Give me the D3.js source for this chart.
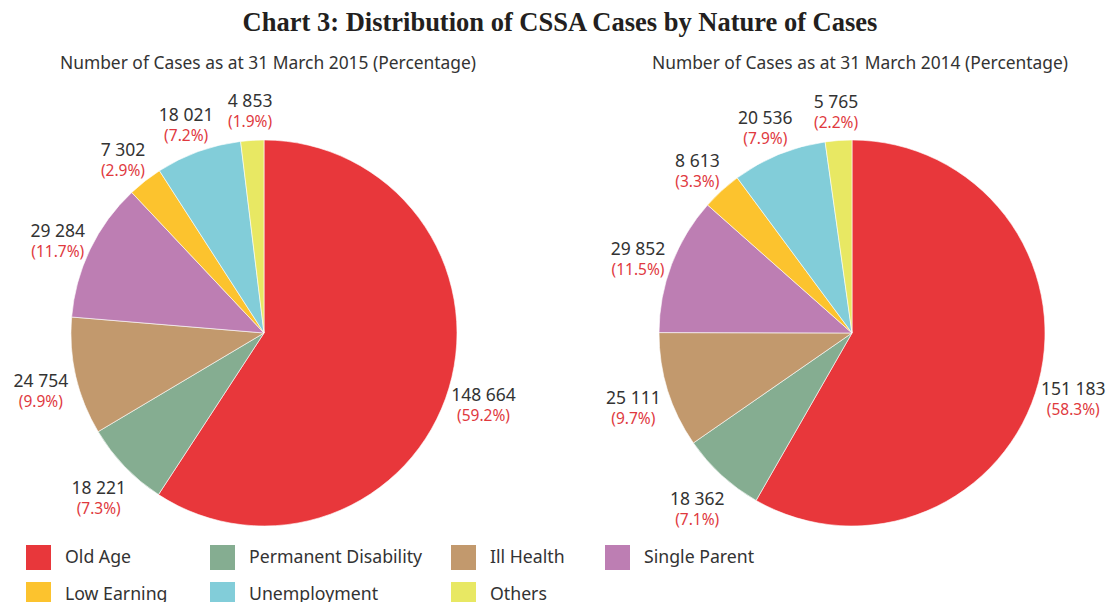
<!DOCTYPE html>
<html>
<head>
<meta charset="utf-8">
<title>CSSA Cases</title>
<script src="https://cdn.jsdelivr.net/npm/d3@7"></script>
<style>
body { margin: 0; background: #fff; }
.title { font-family: "Liberation Serif", "Times New Roman", serif; font-weight: bold; font-size: 26.5px; fill: #231f20; }
.sub { font-family: "Noto Sans", sans-serif; font-size: 17.4px; fill: #333; }
.num { font-family: "Noto Sans", sans-serif; font-size: 17.5px; fill: #333; }
.pct { font-family: "Noto Sans", sans-serif; font-size: 15.5px; fill: #e0393e; }
.leg { font-family: "Noto Sans", sans-serif; font-size: 17.7px; fill: #333; }
</style>
</head>
<body>
<script>

var categories = ["Old Age", "Permanent Disability", "Ill Health", "Single Parent", "Low Earning", "Unemployment", "Others"];
var colors = ["#e8373b", "#85ad91", "#c2996d", "#bd7eb3", "#fcc32e", "#82cdd9", "#e8e863"];
var cases2015 = [148664, 18221, 24754, 29284, 7302, 18021, 4853];
var cases2014 = [151183, 18362, 25111, 29852, 8613, 20536, 5765];
var subtitles = ["Number of Cases as at 31 March 2015 (Percentage)", "Number of Cases as at 31 March 2014 (Percentage)"];

var width = 1110, height = 602;

var svg = d3.select("body").append("svg").attr("width", width).attr("height", height);

svg.append("text").attr("class", "title")
  .attr("x", 560).attr("y", 31).attr("text-anchor", "middle")
  .text("Chart 3: Distribution of CSSA Cases by Nature of Cases");

var fmt = d3.formatLocale({ decimal: ".", thousands: " ", grouping: [3], currency: ["", ""] }).format(",");

var radius = 193;
var pie = d3.pie().sort(null).value(function(d) { return d; });
var arc = d3.arc().innerRadius(0).outerRadius(radius);
var labelArc = d3.arc().innerRadius(radius + 36).outerRadius(radius + 36);

function drawPie(values, cx, subtitle, subX) {
  var total = d3.sum(values);
  svg.append("text").attr("class", "sub")
    .attr("x", subX).attr("y", 69).attr("text-anchor", "middle")
    .text(subtitle);

  var g = svg.append("g").attr("transform", "translate(" + cx + ",333)");
  var arcs = pie(values);

  g.selectAll("path").data(arcs).enter().append("path")
    .attr("d", arc)
    .attr("fill", function(d, i) { return colors[i]; })
    .attr("stroke", "#fff")
    .attr("stroke-width", 0.6);

  var lab = g.selectAll("g.lab").data(arcs).enter().append("g")
    .attr("class", "lab")
    .attr("transform", function(d) {
      var c = labelArc.centroid(d);
      return "translate(" + c[0] + "," + (c[1] + 5) + ")";
    });

  lab.append("text").attr("class", "num")
    .attr("text-anchor", "middle").attr("y", -2)
    .text(function(d) { return fmt(d.value); });

  lab.append("text").attr("class", "pct")
    .attr("text-anchor", "middle").attr("y", 18)
    .text(function(d) { return "(" + (d.value / total * 100).toFixed(1) + "%)"; });
}

drawPie(cases2015, 264, subtitles[0], 268);
drawPie(cases2014, 852, subtitles[1], 860);

// legend
var legX = [26, 210, 451, 605];
var leg = svg.selectAll("g.legend").data(categories).enter().append("g")
  .attr("class", "legend")
  .attr("transform", function(d, i) {
    return "translate(" + legX[i % 4] + "," + (545 + Math.floor(i / 4) * 37) + ")";
  });

leg.append("rect").attr("width", 25).attr("height", 25)
  .attr("fill", function(d, i) { return colors[i]; });

leg.append("text").attr("class", "leg")
  .attr("x", 39).attr("y", 18)
  .text(function(d) { return d; });

</script>
</body>
</html>
